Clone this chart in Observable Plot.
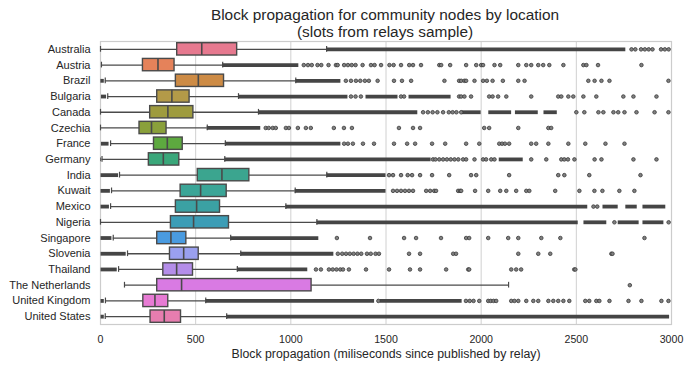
<!DOCTYPE html>
<html><head><meta charset="utf-8">
<script src="https://cdn.jsdelivr.net/npm/d3@7"></script>
<script src="https://cdn.jsdelivr.net/npm/@observablehq/plot@0.6"></script>
<style>
body{margin:0;background:#fff;font-family:"Liberation Sans",Arial,sans-serif;color:#262626;}
#title{box-sizing:border-box;width:690px;height:38px;padding:6px 20px 0 100px;text-align:center;font-size:15.4px;line-height:17px;}
#chart svg{display:block;}
</style></head><body>
<div id="title"><div>Block propagation for community nodes by location</div><div>(slots from relays sample)</div></div>
<div id="chart"></div>
<script>
const categories = ["Australia","Austria","Brazil","Bulgaria","Canada","Czechia","France","Germany","India","Kuwait","Mexico","Nigeria","Singapore","Slovenia","Thailand","The Netherlands","United Kingdom","United States"];
const colors = ["#e6798f","#e5825a","#cd8b45","#b39a48","#9e9b3e","#8aa03b","#5da93f","#3aa77a","#3ba58f","#3ba597","#3ba1a3","#3c9db6","#4a9be0","#9aa0ef","#b48de9","#d97ae3","#e77bd4","#e77daf"];
const whiskerLow  = [0,   5,  25,  38,   0,   0,  53,   8, 100,  58,  53,   0,  67, 142,  95, 126,  26,  25];
const q1          = [403, 223, 396, 298, 261, 205, 281, 254, 511, 421, 396, 370, 298, 365, 330, 298, 225, 263];
const median      = [532, 302, 514, 375, 354, 268, 351, 330, 638, 526, 505, 489, 370, 437, 400, 426, 286, 335];
const q3          = [718, 389, 649, 468, 488, 347, 432, 414, 782, 663, 628, 675, 451, 516, 486, 1109, 356, 423];
const whiskerHigh = [1188, 642, 1026, 725, 830, 561, 656, 653, 1189, 1023, 974, 1137, 684, 737, 719, 2144, 553, 663];
// runs of outliers so dense they merge into a solid bar: [start, end]
const denseRuns = [
  [[1188,2760]],
  [[642,1042]],
  [[2,20],[1026,1263]],
  [[5,32],[725,1300],[1395,1563],[1621,1842]],
  [[830,1667],[1900,2000],[2040,2160],[2180,2300],[2330,2400]],
  [[561,842]],
  [[5,45],[656,1263]],
  [[0,4],[653,1737],[2095,2221]],
  [[3,95],[1189,1500]],
  [[3,52],[1023,1500]],
  [[3,47],[974,2560],[2640,2720],[2760,2820],[2850,2970]],
  [[1137,2510],[2540,2660],[2720,2830],[2850,2960]],
  [[3,60],[684,1147]],
  [[3,135],[737,1226]],
  [[3,88],[719,1089]],
  [],
  [[3,20],[553,1440],[1470,1900]],
  [[3,20],[663,2990]]
];
// individually visible outliers
const outliers = [
  [2790,2810,2840,2860,2880,2900,2945,2965,2985],
  [1068,1090,1110,1140,1160,1198,1237,1246,1280,1300,1320,1340,1377,1421,1440,1474,1518,1540,1579,1622,1642,1684,1780,1790,1837,1921,1974,2000,2010,2070,2100,2195,2237,2263,2300,2326,2358,2432,2537,2553,2614,2842],
  [1289,1316,1342,1365,1389,1410,1456,1542,1584,1632,1807,1884,1895,1912,1921,1965,2010,2030,2060,2114,2195,2228,2563,2596,2632,2674,2984],
  [1316,1340,1368,1579,1595,1884,1895,1912,1947,2042,2060,2089,2132,2263,2405,2421,2458,2484,2537,2605,2747,2800,2921],
  [1695,1720,1745,1770,1800,1830,1850,1870,1895,2500,2542,2616,2642,2695,2720,2753,2816,2911,2984],
  [868,884,905,921,974,990,1037,1079,1105,1226,1279,1321,1568,1642,1679,2016,2042,2195,2353,2368],
  [1280,1300,1326,1379,1437,1542,1611,1653,1742,1811,1921,1990,2095,2110,2125,2147,2263,2289,2353,2458,2547,2653,2753],
  [1747,1760,1780,1800,1820,1840,1860,1880,1905,1921,1965,2010,2026,2053,2070,2263,2342,2421,2437,2456,2490,2596,2632,2800,2921],
  [1516,1537,1579,1614,1637,1679,1742,1832,1947,1974,2147,2405,2437,2568,2837],
  [1537,1558,1579,1600,1621,1642,1711,1732,1753,1763,1879,1889,1895,1968,2037,2100,2132,2184,2237,2253,2389,2516,2595,2637,2726,2805],
  [2590,2610],
  [2700,2985],
  [1242,1416,1595,1658,1789,1921,1937,2037,2142,2195,2316,2416,2858],
  [1247,1270,1290,1310,1330,1350,1370,1400,1420,1445,1463,1621,1679,1853,1868,2195,2300,2363,2684,2690],
  [1132,1158,1200,1220,1240,1260,1274,1305,1395,1516,1626,1679,1816,1932,1937,2158,2184,2210,2489,2495],
  [2781],
  [1460,1920,1940,1960,1990,2037,2050,2065,2079,2158,2175,2195,2237,2274,2300,2353,2379,2405,2432,2463,2547,2568,2605,2621,2674,2774,2842,2947,2984],
  []
];
const xTicks = [0,500,1000,1500,2000,2500,3000];
const xLabel = "Block propagation (miliseconds since published by relay)";

const stats = categories.map((c,i) => ({cat:c, lo:whiskerLow[i], q1:q1[i], med:median[i], q3:q3[i], hi:whiskerHigh[i]}));
const runs = categories.flatMap((c,i) => denseRuns[i].map(([a,b]) => ({cat:c, a, b})));
const pts = categories.flatMap((c,i) => outliers[i].map(v => ({cat:c, v})));

const edge = "#4a4a4a";
const plot = Plot.plot({
  width: 690, height: 329,
  marginLeft: 100, marginRight: 19, marginTop: 3, marginBottom: 43,
  style: {fontFamily: '"Liberation Sans", Arial, sans-serif', fontSize: "11px", color: "#262626", background: "white"},
  x: {domain: [0,3000]},
  y: {domain: categories, padding: 0, round: false},
  color: {domain: categories, range: colors},
  marks: [
    Plot.gridX(xTicks, {stroke: "#d0d0d0", strokeOpacity: 1, strokeWidth: 1}),
    Plot.frame({stroke: "#cccccc", strokeWidth: 1.2}),
    Plot.axisX({ticks: xTicks, tickSize: 0, tickPadding: 10.5, label: null, tickFormat: d => String(d), fontSize: 10.6}),
    Plot.axisY({tickSize: 0, tickPadding: 10, label: null, fontSize: 11}),
    Plot.text([xLabel], {frameAnchor: "bottom", dy: 33.5, fontSize: 12.3, fill: "#262626"}),
    Plot.ruleY(stats, {y: "cat", x1: "lo", x2: "q1", stroke: edge, strokeWidth: 1.3}),
    Plot.ruleY(stats, {y: "cat", x1: "q3", x2: "hi", stroke: edge, strokeWidth: 1.3}),
    Plot.tickX(stats, {y: "cat", x: "lo", stroke: edge, strokeWidth: 1.2, insetTop: 5, insetBottom: 5}),
    Plot.tickX(stats, {y: "cat", x: "hi", stroke: edge, strokeWidth: 1.2, insetTop: 5, insetBottom: 5}),
    Plot.ruleY(runs, {y: "cat", x1: "a", x2: "b", stroke: "#454545", strokeWidth: 3.8}),
    Plot.dot(pts, {y: "cat", x: "v", r: 1.8, fill: "#808080", stroke: "#383838", strokeWidth: 0.8}),
    Plot.barX(stats, {y: "cat", x1: "q1", x2: "q3", fill: "cat", stroke: edge, strokeWidth: 1.4, insetTop: 1.7, insetBottom: 1.7}),
    Plot.tickX(stats, {y: "cat", x: "med", stroke: edge, strokeWidth: 1.6, insetTop: 1.7, insetBottom: 1.7})
  ]
});
document.getElementById("chart").appendChild(plot);
</script>
</body></html>
